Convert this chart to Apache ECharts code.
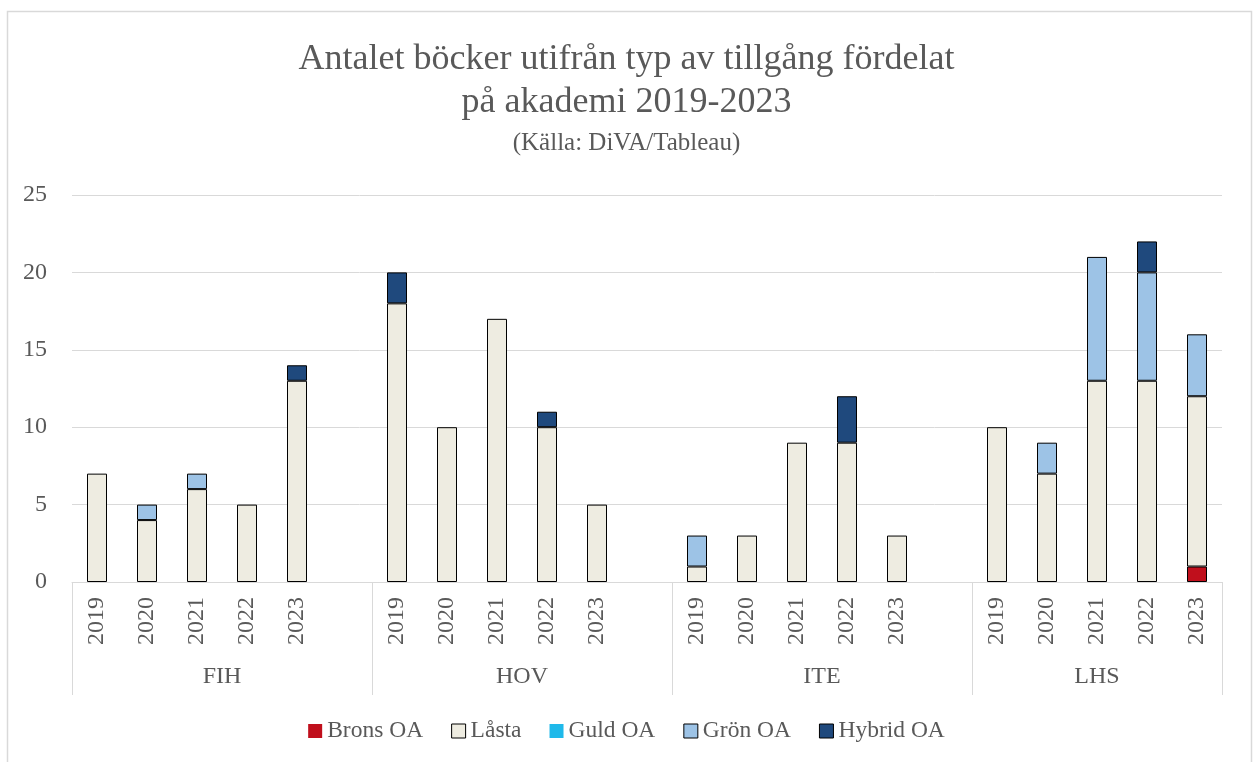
<!DOCTYPE html>
<html>
<head>
<meta charset="utf-8">
<script src="https://cdn.jsdelivr.net/npm/echarts@6/dist/echarts.min.js"></script>
<style>html,body{margin:0;padding:0;background:#fff}#c{width:1253px;height:762px}</style>
</head>
<body>
<div id="c"></div>
<script>
const groups = ['FIH', 'HOV', 'ITE', 'LHS'];
const years = ['2019', '2020', '2021', '2022', '2023'];
// values per group, years 2019..2023
const bronsOA  = [0,0,0,0,0,  0,0,0,0,0,  0,0,0,0,0,  0,0,0,0,1];
const lasta    = [7,4,6,5,13, 18,10,17,10,5, 1,3,9,9,3, 10,7,13,13,11];
const guldOA   = [0,0,0,0,0,  0,0,0,0,0,  0,0,0,0,0,  0,0,0,0,0];
const gronOA   = [0,1,1,0,0,  0,0,0,0,0,  2,0,0,0,0,  0,2,8,7,4];
const hybridOA = [0,0,0,0,1,  2,0,0,1,0,  0,0,0,3,0,  0,0,0,2,0];
const yTicks = [0, 5, 10, 15, 20, 25];

// Build slots: each group gets its 5 years, with an empty slot after every group except the last
const slotLabels = [];
const slotIndex = [];
groups.forEach((g, gi) => {
  years.forEach((y, yi) => { slotIndex.push(gi * 5 + yi); slotLabels.push(y); });
  if (gi < groups.length - 1) { slotIndex.push(-1); slotLabels.push(''); }
});
function toSlots(arr) {
  return slotIndex.map(i => (i < 0 || !arr[i]) ? '-' : arr[i]);
}
// Group axis: half-slot points (boundaryGap false)
const nHalf = slotLabels.length * 2 + 1;
const groupAxisData = new Array(nHalf).fill('');
const boundaries = new Set();
let pos = 0;
groups.forEach((g, gi) => {
  const len = (gi < groups.length - 1) ? 6 : 5;
  boundaries.add(pos * 2);
  groupAxisData[pos * 2 + len] = g;
  pos += len;
});
boundaries.add(pos * 2);
const groupLabelIdx = new Set();
groupAxisData.forEach((v, i) => { if (v) groupLabelIdx.add(i); });

const FONT = "'Liberation Serif', 'DejaVu Serif', serif";
const TXT = '#595959';
const GRID = '#d9d9d9';

const chart = echarts.init(document.getElementById('c'), null, { renderer: 'canvas' });
const seriesDefs = [
  { name: 'Brons OA', data: bronsOA, color: '#C00F1C', legendBorder: 0 },
  { name: 'Låsta', data: lasta, color: '#EEECE1', legendBorder: 1 },
  { name: 'Guld OA', data: guldOA, color: '#1FB9EA', legendBorder: 0 },
  { name: 'Grön OA', data: gronOA, color: '#9DC3E6', legendBorder: 1 },
  { name: 'Hybrid OA', data: hybridOA, color: '#1F497D', legendBorder: 1 }
];
chart.setOption({
  animation: false,
  textStyle: { fontFamily: FONT },
  title: {
    text: 'Antalet böcker utifrån typ av tillgång fördelat\npå akademi 2019-2023',
    subtext: '(Källa: DiVA/Tableau)',
    left: 'center',
    top: 33,
    itemGap: 5,
    textStyle: { fontFamily: FONT, fontSize: 36, lineHeight: 43, color: TXT, fontWeight: 'normal' },
    subtextStyle: { fontFamily: FONT, fontSize: 25, lineHeight: 28, color: TXT }
  },
  legend: {
    top: 714,
    left: 'center',
    icon: 'rect',
    itemWidth: 14,
    itemHeight: 14,
    itemGap: 28,
    textStyle: { fontFamily: FONT, fontSize: 23.5, color: TXT },
    data: seriesDefs.map(s => ({ name: s.name, itemStyle: { borderColor: '#000', borderWidth: s.legendBorder } }))
  },
  grid: { left: 72, right: 31, top: 195, bottom: 180, containLabel: false },
  xAxis: [
    {
      type: 'category',
      data: slotLabels,
      axisLine: { show: true, lineStyle: { color: GRID, width: 1 } },
      axisTick: { show: false },
      axisLabel: { rotate: 90, margin: 15, fontSize: 24, color: TXT, fontFamily: FONT, interval: 0 }
    },
    {
      type: 'category',
      data: groupAxisData,
      boundaryGap: false,
      position: 'bottom',
      axisLine: { show: false },
      axisTick: { show: true, length: 113, interval: (i) => boundaries.has(i), lineStyle: { color: GRID, width: 1 } },
      axisLabel: { margin: 83, fontSize: 24, color: TXT, fontFamily: FONT, interval: (i) => groupLabelIdx.has(i) },
      splitLine: { show: false }
    }
  ],
  yAxis: {
    type: 'value',
    min: yTicks[0],
    max: yTicks[yTicks.length - 1],
    interval: 5,
    axisLine: { show: false },
    axisTick: { show: false },
    axisLabel: { margin: 25, fontSize: 24, color: TXT, fontFamily: FONT },
    splitLine: { lineStyle: { color: GRID, width: 1 } }
  },
  series: seriesDefs.map(s => ({
    name: s.name,
    type: 'bar',
    stack: 'total',
    xAxisIndex: 0,
    barWidth: 20,
    data: toSlots(s.data),
    itemStyle: { color: s.color, borderColor: '#000', borderWidth: 1 }
  })),
  graphic: [{
    type: 'rect',
    shape: { x: 7.5, y: 11.5, width: 1244, height: 780 },
    style: { fill: 'none', stroke: GRID, lineWidth: 1.5 },
    silent: true
  }]
});
</script>
</body>
</html>
